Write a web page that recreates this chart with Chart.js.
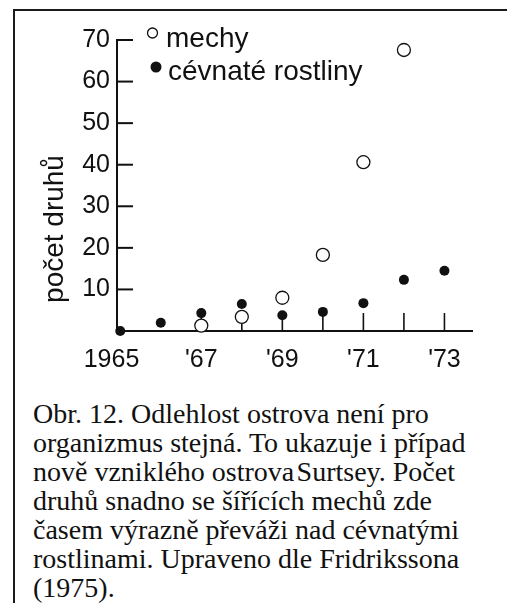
<!DOCTYPE html>
<html>
<head>
<meta charset="utf-8">
<script src="https://cdn.jsdelivr.net/npm/chart.js@4/dist/chart.umd.min.js"></script>
<style>
  html, body { margin: 0; padding: 0; background: #fff; }
  body { width: 507px; height: 603px; position: relative; overflow: hidden; }
  .rule { position: absolute; background: #1a1a1a; }
  #ruleTop { left: 13px; top: 9px; width: 494px; height: 2px; }
  #ruleLeft { left: 13px; top: 9px; width: 2px; height: 594px; }
  #chartBox { position: absolute; left: 15px; top: 11px; width: 492px; height: 375px; }
  #caption {
    position: absolute; left: 33px; top: 399px; white-space: nowrap;
    font-family: "Liberation Serif", "Times New Roman", serif;
    font-size: 28px; line-height: 29px; color: #111;
  }
</style>
</head>
<body>
<div class="rule" id="ruleTop"></div>
<div class="rule" id="ruleLeft"></div>
<div id="chartBox"><canvas id="chart" width="492" height="375"></canvas></div>
<div id="caption">
Obr. 12. Odlehlost ostrova není pro<br>
organizmus stejná. To ukazuje i případ<br>
nově vzniklého ostrova&#8202;Surtsey. Počet<br>
druhů snadno se šířících mechů zde<br>
časem výrazně převáži nad cévnatými<br>
rostlinami. Upraveno dle Fridrikssona<br>
(1975).
</div>
<script>
// ---- data ----
const mossYears = [1967, 1968, 1969, 1970, 1971, 1972];
const mossCounts = [1.3, 3.4, 8.0, 18.3, 40.6, 67.6];
const vascYears = [1965, 1966, 1967, 1968, 1969, 1970, 1971, 1972, 1973];
const vascCounts = [0, 2, 4.3, 6.5, 3.8, 4.6, 6.7, 12.3, 14.5];

const xLabelYears = [1965, 1967, 1969, 1971, 1973];
const xLabels = ['1965\u2002\u2009', "'67", "'69", "'71", "'73"];
const xTickYears = [1967, 1968, 1969, 1970, 1971, 1972, 1973];
const yTicks = [10, 20, 30, 40, 50, 60, 70];

const seriesNames = ['mechy', 'cévnaté rostliny'];
const yTitle = 'počet druhů';

const ink = '#111';
const sans = '"Liberation Sans", Arial, Helvetica, sans-serif';

// inward tick marks, axis title and the small legend
const decorations = {
  id: 'decorations',
  beforeDatasetsDraw(chart) {
    const { ctx, chartArea, scales } = chart;
    ctx.save();
    ctx.strokeStyle = ink;
    ctx.lineWidth = 2;
    yTicks.forEach(v => {
      const y = scales.y.getPixelForValue(v);
      ctx.beginPath();
      ctx.moveTo(chartArea.left, y);
      ctx.lineTo(chartArea.left + 16, y);
      ctx.stroke();
    });
    ctx.lineWidth = 1.6;
    xTickYears.forEach(v => {
      const x = scales.x.getPixelForValue(v);
      ctx.beginPath();
      ctx.moveTo(x, chartArea.bottom);
      ctx.lineTo(x, chartArea.bottom - 18);
      ctx.stroke();
    });
    ctx.restore();
  },
  afterDraw(chart) {
    const { ctx } = chart;
    ctx.save();
    ctx.fillStyle = ink;
    ctx.strokeStyle = ink;

    // y axis title
    ctx.save();
    ctx.translate(40, 218);
    ctx.rotate(-Math.PI / 2);
    ctx.font = '28px ' + sans;
    ctx.textAlign = 'center';
    ctx.textBaseline = 'middle';
    ctx.fillText(yTitle, 0, 0);
    ctx.restore();

    // legend
    ctx.font = '28px ' + sans;
    ctx.textAlign = 'left';
    ctx.textBaseline = 'alphabetic';
    ctx.lineWidth = 1.3;
    ctx.beginPath();
    ctx.arc(137.5, 22, 5, 0, Math.PI * 2);
    ctx.stroke();
    ctx.fillText(seriesNames[0], 151, 36);
    ctx.beginPath();
    ctx.arc(141, 56, 5.5, 0, Math.PI * 2);
    ctx.fill();
    ctx.fillText(seriesNames[1], 153, 69);
    ctx.restore();
  }
};

new Chart(document.getElementById('chart'), {
  type: 'scatter',
  data: {
    datasets: [
      {
        label: seriesNames[0],
        data: mossYears.map((x, i) => ({ x, y: mossCounts[i] })),
        pointRadius: 6.5,
        pointHoverRadius: 6.5,
        pointBackgroundColor: '#fff',
        pointBorderColor: ink,
        pointBorderWidth: 1.3,
        clip: false
      },
      {
        label: seriesNames[1],
        data: vascYears.map((x, i) => ({ x, y: vascCounts[i] })),
        pointRadius: 5,
        pointHoverRadius: 5,
        pointBackgroundColor: ink,
        pointBorderColor: ink,
        pointBorderWidth: 0,
        clip: false
      }
    ]
  },
  options: {
    responsive: false,
    animation: false,
    events: [],
    layout: { padding: { top: 29, right: 35, left: 0, bottom: 0 } },
    plugins: { legend: { display: false }, tooltip: { enabled: false } },
    scales: {
      x: {
        type: 'linear',
        min: 1964.92,
        max: 1973.68,
        grid: { display: false, drawTicks: false },
        border: { display: true, color: ink, width: 2 },
        afterBuildTicks: s => { s.ticks = xLabelYears.map(v => ({ value: v })); },
        afterFit: s => { s.height = 55; },
        ticks: {
          padding: 14,
          color: ink,
          maxRotation: 0,
          autoSkip: false,
          font: { family: sans, size: 25 },
          callback: v => xLabels[xLabelYears.indexOf(v)]
        }
      },
      y: {
        min: 0,
        max: 70,
        grid: { display: false, drawTicks: false },
        border: { display: true, color: ink, width: 2 },
        afterBuildTicks: s => { s.ticks = yTicks.map(v => ({ value: v })); },
        afterFit: s => { s.width = 102; },
        ticks: {
          padding: 7,
          color: ink,
          font: { family: sans, size: 25 }
        }
      }
    }
  },
  plugins: [decorations]
});
</script>
</body>
</html>
